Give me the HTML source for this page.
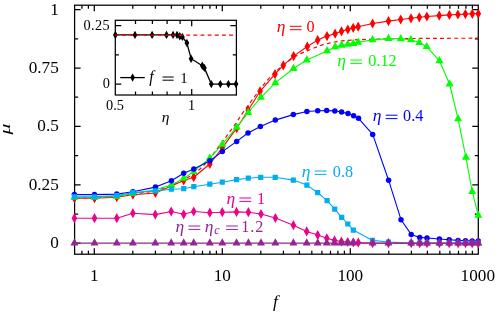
<!DOCTYPE html>
<html><head><meta charset="utf-8"><title>chart</title>
<style>html,body{margin:0;padding:0;background:#fff}body{width:498px;height:315px;overflow:hidden;font-family:"Liberation Serif",serif}</style>
</head><body>
<svg width="498" height="315" viewBox="0 0 498 315" style="display:block;will-change:transform">
<rect width="498" height="315" fill="#fff"/>
<g stroke="#000" stroke-width="1.25" fill="none" stroke-linecap="butt">
<rect x="74.6" y="5.2" width="403.7" height="249.0"/>
<path d="M81.9 254.2v-3.5M81.9 5.2v3.5M88.4 254.2v-3.5M88.4 5.2v3.5M94.3 254.2v-6.0M94.3 5.2v6.0M132.8 254.2v-3.5M132.8 5.2v3.5M155.4 254.2v-3.5M155.4 5.2v3.5M171.4 254.2v-3.5M171.4 5.2v3.5M183.8 254.2v-3.5M183.8 5.2v3.5M193.9 254.2v-3.5M193.9 5.2v3.5M202.5 254.2v-3.5M202.5 5.2v3.5M209.9 254.2v-3.5M209.9 5.2v3.5M216.4 254.2v-3.5M216.4 5.2v3.5M222.3 254.2v-6.0M222.3 5.2v6.0M260.8 254.2v-3.5M260.8 5.2v3.5M283.4 254.2v-3.5M283.4 5.2v3.5M299.4 254.2v-3.5M299.4 5.2v3.5M311.8 254.2v-3.5M311.8 5.2v3.5M321.9 254.2v-3.5M321.9 5.2v3.5M330.5 254.2v-3.5M330.5 5.2v3.5M337.9 254.2v-3.5M337.9 5.2v3.5M344.4 254.2v-3.5M344.4 5.2v3.5M350.3 254.2v-6.0M350.3 5.2v6.0M388.8 254.2v-3.5M388.8 5.2v3.5M411.4 254.2v-3.5M411.4 5.2v3.5M427.4 254.2v-3.5M427.4 5.2v3.5M439.8 254.2v-3.5M439.8 5.2v3.5M449.9 254.2v-3.5M449.9 5.2v3.5M458.5 254.2v-3.5M458.5 5.2v3.5M465.9 254.2v-3.5M465.9 5.2v3.5M472.4 254.2v-3.5M472.4 5.2v3.5M74.6 243.2h6.0M478.3 243.2h-6.0M74.6 214.0h3.5M478.3 214.0h-3.5M74.6 184.8h6.0M478.3 184.8h-6.0M74.6 155.6h3.5M478.3 155.6h-3.5M74.6 126.4h6.0M478.3 126.4h-6.0M74.6 97.2h3.5M478.3 97.2h-3.5M74.6 68.0h6.0M478.3 68.0h-6.0M74.6 38.8h3.5M478.3 38.8h-3.5M74.6 9.6h6.0M478.3 9.6h-6.0"/>
</g>
<polyline points="74.4,197.6 94.5,197.5 116.8,196.5 132.9,194.0 155.4,191.0 171.4,185.2 183.7,179.5 193.7,174.5 200.0,169.0 205.0,164.0 209.8,158.6 216.0,150.3 222.3,142.0 226.1,136.8 230.2,131.2 233.9,126.2 238.6,119.1 242.6,113.1 250.6,102.0 254.6,96.6 263.6,84.6 268.6,78.8 275.0,72.3 283.3,65.0 293.6,57.3 301.6,53.1 314.4,47.8 323.0,44.6 334.3,42.0 343.9,40.7 358.0,39.7 372.6,39.2 400.0,38.6 440.0,38.3 478.3,38.2" fill="none" stroke="#f00" stroke-width="1.2" stroke-dasharray="3.9 3.2" stroke-dashoffset="5.5"/>
<g fill="#ff0000" stroke="none">
<polyline points="74.4,198.2 94.5,198.2 116.8,197.2 132.9,194.7 155.4,193.0 171.4,186.1 183.7,180.5 193.7,177.2 209.8,164.0 222.3,147.8 236.7,128.2 248.2,110.2 260.1,91.3 275.0,74.1 283.3,65.3 293.6,56.1 307.3,46.5 317.7,40.1 327.0,36.1 335.1,33.7 341.5,31.3 347.8,29.5 353.2,27.8 358.2,26.7 372.6,23.5 388.5,21.1 400.7,19.5 411.0,18.3 419.3,17.3 426.9,16.5 439.2,15.6 449.4,14.9 457.9,14.5 465.4,14.1 472.3,13.8 478.3,13.7" fill="none" stroke="#ff0000" stroke-width="1.1" stroke-linejoin="round"/>
<path d="M74.4 193.1L77.2 198.2L74.4 203.3L71.6 198.2ZM94.5 193.1L97.3 198.2L94.5 203.3L91.7 198.2ZM116.8 192.1L119.6 197.2L116.8 202.3L114.0 197.2ZM132.9 189.6L135.7 194.7L132.9 199.8L130.1 194.7ZM155.4 187.9L158.2 193.0L155.4 198.1L152.6 193.0ZM171.4 181.0L174.2 186.1L171.4 191.2L168.6 186.1ZM183.7 175.4L186.5 180.5L183.7 185.6L180.9 180.5ZM193.7 172.1L196.5 177.2L193.7 182.3L190.9 177.2ZM209.8 158.9L212.6 164.0L209.8 169.1L207.0 164.0ZM222.3 142.7L225.1 147.8L222.3 152.9L219.5 147.8ZM236.7 123.1L239.5 128.2L236.7 133.3L233.9 128.2ZM248.2 105.1L251.0 110.2L248.2 115.3L245.4 110.2ZM260.1 86.2L262.9 91.3L260.1 96.4L257.3 91.3ZM275.0 69.0L277.8 74.1L275.0 79.2L272.2 74.1ZM283.3 60.2L286.1 65.3L283.3 70.4L280.5 65.3ZM293.6 51.0L296.4 56.1L293.6 61.2L290.8 56.1ZM307.3 41.4L310.1 46.5L307.3 51.6L304.5 46.5ZM317.7 35.0L320.5 40.1L317.7 45.2L314.9 40.1ZM327.0 31.0L329.8 36.1L327.0 41.2L324.2 36.1ZM335.1 28.6L337.9 33.7L335.1 38.8L332.3 33.7ZM341.5 26.2L344.3 31.3L341.5 36.4L338.7 31.3ZM347.8 24.4L350.6 29.5L347.8 34.6L345.0 29.5ZM353.2 22.7L356.0 27.8L353.2 32.9L350.4 27.8ZM358.2 21.6L361.0 26.7L358.2 31.8L355.4 26.7ZM372.6 18.4L375.4 23.5L372.6 28.6L369.8 23.5ZM388.5 16.0L391.3 21.1L388.5 26.2L385.7 21.1ZM400.7 14.4L403.5 19.5L400.7 24.6L397.9 19.5ZM411.0 13.2L413.8 18.3L411.0 23.4L408.2 18.3ZM419.3 12.2L422.1 17.3L419.3 22.4L416.5 17.3ZM426.9 11.4L429.7 16.5L426.9 21.6L424.1 16.5ZM439.2 10.5L442.0 15.6L439.2 20.7L436.4 15.6ZM449.4 9.8L452.2 14.9L449.4 20.0L446.6 14.9ZM457.9 9.4L460.7 14.5L457.9 19.6L455.1 14.5ZM465.4 9.0L468.2 14.1L465.4 19.2L462.6 14.1ZM472.3 8.7L475.1 13.8L472.3 18.9L469.5 13.8ZM478.3 8.6L481.1 13.7L478.3 18.8L475.5 13.7Z"/>
</g>
<g fill="#00ff00" stroke="none">
<polyline points="74.4,197.3 94.5,197.3 116.8,196.4 132.9,193.5 155.4,189.8 171.4,185.1 183.7,178.4 193.7,171.7 209.8,158.2 222.3,144.4 236.7,127.2 248.2,112.5 260.9,97.3 275.3,82.9 293.5,68.5 306.8,60.0 327.0,50.9 335.1,46.9 341.5,45.4 347.8,44.4 353.2,43.5 358.2,42.3 372.6,39.9 388.5,38.6 400.8,38.8 410.9,39.8 419.3,42.5 426.7,46.7 439.4,60.8 449.6,84.0 458.1,118.8 465.9,157.4 472.2,191.5 478.3,215.4" fill="none" stroke="#00ff00" stroke-width="1.1" stroke-linejoin="round"/>
<path d="M74.4 192.5L78.4 199.7L70.4 199.7ZM94.5 192.5L98.5 199.7L90.5 199.7ZM116.8 191.6L120.8 198.8L112.8 198.8ZM132.9 188.7L136.9 195.9L128.9 195.9ZM155.4 185.0L159.4 192.2L151.4 192.2ZM171.4 180.3L175.4 187.5L167.4 187.5ZM183.7 173.6L187.7 180.8L179.7 180.8ZM193.7 166.9L197.7 174.1L189.7 174.1ZM209.8 153.4L213.8 160.6L205.8 160.6ZM222.3 139.6L226.3 146.8L218.3 146.8ZM236.7 122.4L240.7 129.6L232.7 129.6ZM248.2 107.7L252.2 114.9L244.2 114.9ZM260.9 92.5L264.9 99.7L256.9 99.7ZM275.3 78.1L279.3 85.3L271.3 85.3ZM293.5 63.7L297.5 70.9L289.5 70.9ZM306.8 55.2L310.8 62.4L302.8 62.4ZM327.0 46.1L331.0 53.3L323.0 53.3ZM335.1 42.1L339.1 49.3L331.1 49.3ZM341.5 40.6L345.5 47.8L337.5 47.8ZM347.8 39.6L351.8 46.8L343.8 46.8ZM353.2 38.7L357.2 45.9L349.2 45.9ZM358.2 37.5L362.2 44.7L354.2 44.7ZM372.6 35.1L376.6 42.3L368.6 42.3ZM388.5 33.8L392.5 41.0L384.5 41.0ZM400.8 34.0L404.8 41.2L396.8 41.2ZM410.9 35.0L414.9 42.2L406.9 42.2ZM419.3 37.7L423.3 44.9L415.3 44.9ZM426.7 41.9L430.7 49.1L422.7 49.1ZM439.4 56.0L443.4 63.2L435.4 63.2ZM449.6 79.2L453.6 86.4L445.6 86.4ZM458.1 114.0L462.1 121.2L454.1 121.2ZM465.9 152.6L469.9 159.8L461.9 159.8ZM472.2 186.7L476.2 193.9L468.2 193.9ZM478.3 210.6L482.3 217.8L474.3 217.8Z"/>
</g>
<g fill="#0000ff" stroke="none">
<polyline points="74.4,194.6 94.5,194.6 116.8,194.1 132.9,191.7 155.5,187.1 171.4,180.7 183.7,173.3 193.8,169.0 209.9,160.7 222.3,151.6 236.7,141.4 248.0,133.0 260.4,126.4 275.3,120.1 293.3,114.6 306.9,111.5 317.7,110.7 326.7,110.6 334.8,110.9 341.6,112.0 348.0,113.6 353.6,115.7 358.5,118.3 372.7,134.4 388.6,180.2 401.0,219.7 411.2,234.4 419.7,237.4 427.0,238.0 439.4,239.0 449.2,239.8 458.1,240.4 465.5,240.7 472.2,240.9 478.3,240.9" fill="none" stroke="#0000ff" stroke-width="1.1" stroke-linejoin="round"/>
<circle cx="74.4" cy="194.6" r="2.75"/><circle cx="94.5" cy="194.6" r="2.75"/><circle cx="116.8" cy="194.1" r="2.75"/><circle cx="132.9" cy="191.7" r="2.75"/><circle cx="155.5" cy="187.1" r="2.75"/><circle cx="171.4" cy="180.7" r="2.75"/><circle cx="183.7" cy="173.3" r="2.75"/><circle cx="193.8" cy="169.0" r="2.75"/><circle cx="209.9" cy="160.7" r="2.75"/><circle cx="222.3" cy="151.6" r="2.75"/><circle cx="236.7" cy="141.4" r="2.75"/><circle cx="248.0" cy="133.0" r="2.75"/><circle cx="260.4" cy="126.4" r="2.75"/><circle cx="275.3" cy="120.1" r="2.75"/><circle cx="293.3" cy="114.6" r="2.75"/><circle cx="306.9" cy="111.5" r="2.75"/><circle cx="317.7" cy="110.7" r="2.75"/><circle cx="326.7" cy="110.6" r="2.75"/><circle cx="334.8" cy="110.9" r="2.75"/><circle cx="341.6" cy="112.0" r="2.75"/><circle cx="348.0" cy="113.6" r="2.75"/><circle cx="353.6" cy="115.7" r="2.75"/><circle cx="358.5" cy="118.3" r="2.75"/><circle cx="372.7" cy="134.4" r="2.75"/><circle cx="388.6" cy="180.2" r="2.75"/><circle cx="401.0" cy="219.7" r="2.75"/><circle cx="411.2" cy="234.4" r="2.75"/><circle cx="419.7" cy="237.4" r="2.75"/><circle cx="427.0" cy="238.0" r="2.75"/><circle cx="439.4" cy="239.0" r="2.75"/><circle cx="449.2" cy="239.8" r="2.75"/><circle cx="458.1" cy="240.4" r="2.75"/><circle cx="465.5" cy="240.7" r="2.75"/><circle cx="472.2" cy="240.9" r="2.75"/><circle cx="478.3" cy="240.9" r="2.75"/>
</g>
<g fill="#00aeef" stroke="none">
<polyline points="74.4,196.9 94.5,196.9 116.8,195.5 132.9,192.6 155.5,190.9 171.4,189.2 183.7,188.7 193.8,186.7 209.8,184.2 222.3,182.2 236.6,179.6 248.3,178.2 260.7,177.3 275.2,177.3 293.3,180.1 306.9,185.1 317.7,192.7 327.1,200.7 334.7,209.1 341.7,217.3 347.8,224.0 353.3,230.1 372.5,240.4 388.4,242.0 411.2,243.0 419.7,243.2 427.0,243.2 439.4,243.2 449.2,243.2 458.1,243.2 465.5,243.2 472.2,243.2 478.3,243.2" fill="none" stroke="#00aeef" stroke-width="1.1" stroke-linejoin="round"/>
<path d="M71.8 194.3h5.2v5.2h-5.2ZM91.9 194.3h5.2v5.2h-5.2ZM114.2 192.9h5.2v5.2h-5.2ZM130.3 190.0h5.2v5.2h-5.2ZM152.9 188.3h5.2v5.2h-5.2ZM168.8 186.6h5.2v5.2h-5.2ZM181.1 186.1h5.2v5.2h-5.2ZM191.2 184.1h5.2v5.2h-5.2ZM207.2 181.6h5.2v5.2h-5.2ZM219.7 179.6h5.2v5.2h-5.2ZM234.0 177.0h5.2v5.2h-5.2ZM245.7 175.6h5.2v5.2h-5.2ZM258.1 174.7h5.2v5.2h-5.2ZM272.6 174.7h5.2v5.2h-5.2ZM290.7 177.5h5.2v5.2h-5.2ZM304.3 182.5h5.2v5.2h-5.2ZM315.1 190.1h5.2v5.2h-5.2ZM324.5 198.1h5.2v5.2h-5.2ZM332.1 206.5h5.2v5.2h-5.2ZM339.1 214.7h5.2v5.2h-5.2ZM345.2 221.4h5.2v5.2h-5.2ZM350.7 227.5h5.2v5.2h-5.2ZM369.9 237.8h5.2v5.2h-5.2ZM385.8 239.4h5.2v5.2h-5.2ZM408.6 240.4h5.2v5.2h-5.2ZM417.1 240.6h5.2v5.2h-5.2ZM424.4 240.6h5.2v5.2h-5.2ZM436.8 240.6h5.2v5.2h-5.2ZM446.6 240.6h5.2v5.2h-5.2ZM455.5 240.6h5.2v5.2h-5.2ZM462.9 240.6h5.2v5.2h-5.2ZM469.6 240.6h5.2v5.2h-5.2ZM475.7 240.6h5.2v5.2h-5.2Z"/>
</g>
<g fill="#ec008c" stroke="none">
<polyline points="74.4,218.2 94.5,218.2 116.8,218.2 132.9,213.2 155.3,214.6 171.2,211.5 183.7,214.3 193.7,211.5 209.8,212.7 222.3,212.2 236.5,211.9 248.4,212.2 261.0,214.0 275.4,218.0 293.4,225.2 306.7,231.4 317.7,235.1 326.8,238.3 334.5,240.4 341.4,241.5 347.7,242.0 353.3,242.3 358.3,242.6 372.6,243.1 388.4,243.2 411.2,243.2 419.7,243.2 427.0,243.2 439.4,243.2 449.2,243.2 458.1,243.2 465.5,243.2 472.2,243.2 478.3,243.2" fill="none" stroke="#ec008c" stroke-width="1.1" stroke-linejoin="round"/>
<path d="M74.4 213.1L77.2 218.2L74.4 223.3L71.6 218.2ZM94.5 213.1L97.3 218.2L94.5 223.3L91.7 218.2ZM116.8 213.1L119.6 218.2L116.8 223.3L114.0 218.2ZM132.9 208.1L135.7 213.2L132.9 218.3L130.1 213.2ZM155.3 209.5L158.1 214.6L155.3 219.7L152.5 214.6ZM171.2 206.4L174.0 211.5L171.2 216.6L168.4 211.5ZM183.7 209.2L186.5 214.3L183.7 219.4L180.9 214.3ZM193.7 206.4L196.5 211.5L193.7 216.6L190.9 211.5ZM209.8 207.6L212.6 212.7L209.8 217.8L207.0 212.7ZM222.3 207.1L225.1 212.2L222.3 217.3L219.5 212.2ZM236.5 206.8L239.3 211.9L236.5 217.0L233.7 211.9ZM248.4 207.1L251.2 212.2L248.4 217.3L245.6 212.2ZM261.0 208.9L263.8 214.0L261.0 219.1L258.2 214.0ZM275.4 212.9L278.2 218.0L275.4 223.1L272.6 218.0ZM293.4 220.1L296.2 225.2L293.4 230.3L290.6 225.2ZM306.7 226.3L309.5 231.4L306.7 236.5L303.9 231.4ZM317.7 230.0L320.5 235.1L317.7 240.2L314.9 235.1ZM326.8 233.2L329.6 238.3L326.8 243.4L324.0 238.3ZM334.5 235.3L337.3 240.4L334.5 245.5L331.7 240.4ZM341.4 236.4L344.2 241.5L341.4 246.6L338.6 241.5ZM347.7 236.9L350.5 242.0L347.7 247.1L344.9 242.0ZM353.3 237.2L356.1 242.3L353.3 247.4L350.5 242.3ZM358.3 237.5L361.1 242.6L358.3 247.7L355.5 242.6ZM372.6 238.0L375.4 243.1L372.6 248.2L369.8 243.1ZM388.4 238.1L391.2 243.2L388.4 248.3L385.6 243.2ZM411.2 238.1L414.0 243.2L411.2 248.3L408.4 243.2ZM419.7 238.1L422.5 243.2L419.7 248.3L416.9 243.2ZM427.0 238.1L429.8 243.2L427.0 248.3L424.2 243.2ZM439.4 238.1L442.2 243.2L439.4 248.3L436.6 243.2ZM449.2 238.1L452.0 243.2L449.2 248.3L446.4 243.2ZM458.1 238.1L460.9 243.2L458.1 248.3L455.3 243.2ZM465.5 238.1L468.3 243.2L465.5 248.3L462.7 243.2ZM472.2 238.1L475.0 243.2L472.2 248.3L469.4 243.2ZM478.3 238.1L481.1 243.2L478.3 248.3L475.5 243.2Z"/>
</g>
<g fill="#92278f" stroke="none">
<polyline points="74.4,243.1 94.5,243.1 116.8,243.1 132.9,243.1 155.3,243.1 171.2,243.1 183.7,243.1 193.7,243.1 209.8,243.1 222.3,243.1 236.5,243.1 248.4,243.1 261.0,243.1 275.4,243.1 293.4,243.1 306.7,243.1 317.7,243.1 326.8,243.1 334.5,243.1 341.4,243.1 347.7,243.1 353.3,243.1 372.6,243.1 388.4,243.1 411.2,243.1 419.7,243.1 427.0,243.1 439.4,243.1 449.2,243.1 458.1,243.1 465.5,243.1 472.2,243.1 478.3,243.1" fill="none" stroke="#92278f" stroke-width="1.1" stroke-linejoin="round"/>
<path d="M74.4 238.3L78.4 245.5L70.4 245.5ZM94.5 238.3L98.5 245.5L90.5 245.5ZM116.8 238.3L120.8 245.5L112.8 245.5ZM132.9 238.3L136.9 245.5L128.9 245.5ZM155.3 238.3L159.3 245.5L151.3 245.5ZM171.2 238.3L175.2 245.5L167.2 245.5ZM183.7 238.3L187.7 245.5L179.7 245.5ZM193.7 238.3L197.7 245.5L189.7 245.5ZM209.8 238.3L213.8 245.5L205.8 245.5ZM222.3 238.3L226.3 245.5L218.3 245.5ZM236.5 238.3L240.5 245.5L232.5 245.5ZM248.4 238.3L252.4 245.5L244.4 245.5ZM261.0 238.3L265.0 245.5L257.0 245.5ZM275.4 238.3L279.4 245.5L271.4 245.5ZM293.4 238.3L297.4 245.5L289.4 245.5ZM306.7 238.3L310.7 245.5L302.7 245.5ZM317.7 238.3L321.7 245.5L313.7 245.5ZM326.8 238.3L330.8 245.5L322.8 245.5ZM334.5 238.3L338.5 245.5L330.5 245.5ZM341.4 238.3L345.4 245.5L337.4 245.5ZM347.7 238.3L351.7 245.5L343.7 245.5ZM353.3 238.3L357.3 245.5L349.3 245.5ZM372.6 238.3L376.6 245.5L368.6 245.5ZM388.4 238.3L392.4 245.5L384.4 245.5ZM411.2 238.3L415.2 245.5L407.2 245.5ZM419.7 238.3L423.7 245.5L415.7 245.5ZM427.0 238.3L431.0 245.5L423.0 245.5ZM439.4 238.3L443.4 245.5L435.4 245.5ZM449.2 238.3L453.2 245.5L445.2 245.5ZM458.1 238.3L462.1 245.5L454.1 245.5ZM465.5 238.3L469.5 245.5L461.5 245.5ZM472.2 238.3L476.2 245.5L468.2 245.5ZM478.3 238.3L482.3 245.5L474.3 245.5Z"/>
</g>
<rect x="115.3" y="20.3" width="121.1" height="74.7" fill="#fff" stroke="none"/>
<g stroke="#000" stroke-width="1.25" fill="none">
<rect x="115.3" y="20.3" width="121.1" height="74.7"/>
<path d="M135.5 95.0v-3.6M135.5 20.3v3.6M152.4 95.0v-3.6M152.4 20.3v3.6M167.1 95.0v-3.6M167.1 20.3v3.6M180.1 95.0v-3.6M180.1 20.3v3.6M191.7 95.0v-6.0M191.7 20.3v6.0M115.3 84.0h6.0M236.4 84.0h-6.0M115.3 54.8h3.6M236.4 54.8h-3.6M115.3 25.6h6.0M236.4 25.6h-6.0"/>
</g>
<polyline points="115.4,34.9 135.0,34.9 152.1,34.9 166.5,34.9 173.1,34.9 177.0,34.9 179.8,36.2 182.4,36.9 186.9,43.0 191.1,58.7 202.3,65.8 204.4,67.9 211.3,84.1 220.3,84.1 228.4,84.1 236.0,84.1" fill="none" stroke="#000" stroke-width="1.3"/>
<path d="M115.4 30.7L117.8 34.9L115.4 39.1L113.0 34.9ZM135.0 30.7L137.4 34.9L135.0 39.1L132.6 34.9ZM152.1 30.7L154.5 34.9L152.1 39.1L149.7 34.9ZM166.5 30.7L168.9 34.9L166.5 39.1L164.1 34.9ZM173.1 30.7L175.5 34.9L173.1 39.1L170.7 34.9ZM177.0 30.7L179.4 34.9L177.0 39.1L174.6 34.9ZM179.8 32.0L182.2 36.2L179.8 40.4L177.4 36.2ZM182.4 32.7L184.8 36.9L182.4 41.1L180.0 36.9ZM186.9 38.8L189.3 43.0L186.9 47.2L184.5 43.0ZM191.1 54.5L193.5 58.7L191.1 62.9L188.7 58.7ZM202.3 61.6L204.7 65.8L202.3 70.0L199.9 65.8ZM204.4 63.7L206.8 67.9L204.4 72.1L202.0 67.9ZM211.3 79.9L213.7 84.1L211.3 88.3L208.9 84.1ZM220.3 79.9L222.7 84.1L220.3 88.3L217.9 84.1ZM228.4 79.9L230.8 84.1L228.4 88.3L226.0 84.1ZM236.0 79.9L238.4 84.1L236.0 88.3L233.6 84.1Z" fill="#000"/>
<path d="M115.3 35.1H236.4" stroke="#f00" stroke-width="1.2" stroke-dasharray="3.9 3.23" stroke-dashoffset="0.3" fill="none"/>
<path d="M120.2 77.6H144.8" stroke="#000" stroke-width="1.3"/><path d="M132.6 73.4L135.0 77.6L132.6 81.8L130.2 77.6Z" fill="#000"/>
<g font-family="'Liberation Serif', serif" fill="#000">
<text x="58.8" y="248.1" font-size="17.2" text-anchor="end">0</text>
<text x="58.8" y="189.7" font-size="17.2" text-anchor="end">0.25</text>
<text x="58.8" y="131.3" font-size="17.2" text-anchor="end">0.5</text>
<text x="58.8" y="72.9" font-size="17.2" text-anchor="end">0.75</text>
<text x="58.8" y="14.5" font-size="17.2" text-anchor="end">1</text>
<text x="94.3" y="281.2" font-size="17.2" text-anchor="middle">1</text>
<text x="222.3" y="281.2" font-size="17.2" text-anchor="middle">10</text>
<text x="350.3" y="281.2" font-size="17.2" text-anchor="middle">100</text>
<text x="477.8" y="281.2" font-size="17.2" text-anchor="middle">1000</text>
<text x="275.4" y="307.4" font-size="17.5" text-anchor="middle"><tspan font-style="italic">f</tspan></text>
<text transform="translate(10.0,129.0) rotate(-90) scale(1.25,0.8)" font-size="17.5" text-anchor="middle" font-style="italic">μ</text>
<text x="109.9" y="29.5" font-size="14.3" text-anchor="end" letter-spacing="0.35">0.25</text>
<text x="109.9" y="88.1" font-size="14.3" text-anchor="end">0</text>
<text x="115.0" y="109.8" font-size="14.3" text-anchor="middle">0.5</text>
<text x="191.6" y="109.8" font-size="14.3" text-anchor="middle">1</text>
<text x="165.6" y="121.6" font-size="15.5" text-anchor="middle"><tspan font-style="italic">η</tspan></text>
<text x="149.3" y="82.0" font-size="15.8" text-anchor="start"><tspan font-style="italic">f</tspan></text>
<path d="M162.5 77.0h11.2M162.5 80.2h11.2" stroke="#000" stroke-width="1.0" fill="none"/>
<text x="187.6" y="82.5" font-size="14.8" text-anchor="end">1</text>
<text x="276.8" y="32" font-size="17.5" font-style="italic" fill="#ff0000">η</text>
<path d="M289.8 26.3h11.8M289.8 29.7h11.8" stroke="#ff0000" stroke-width="1.0" fill="none"/>
<text x="314.6" y="32" font-size="16.2" text-anchor="end" fill="#ff0000">0</text>
<text x="337.3" y="65.7" font-size="17.5" font-style="italic" fill="#00ff00">η</text>
<path d="M350.3 60.0h11.8M350.3 63.4h11.8" stroke="#00ff00" stroke-width="1.0" fill="none"/>
<text x="396.7" y="65.7" font-size="16.2" text-anchor="end" fill="#00ff00">0.12</text>
<text x="372.7" y="120.9" font-size="17.5" font-style="italic" fill="#0000ff">η</text>
<path d="M385.7 115.2h11.8M385.7 118.6h11.8" stroke="#0000ff" stroke-width="1.0" fill="none"/>
<text x="423.3" y="120.9" font-size="16.2" text-anchor="end" fill="#0000ff">0.4</text>
<text x="301.7" y="176.7" font-size="17.5" font-style="italic" fill="#00aeef">η</text>
<path d="M314.7 171.0h11.8M314.7 174.4h11.8" stroke="#00aeef" stroke-width="1.0" fill="none"/>
<text x="353.1" y="176.7" font-size="16.2" text-anchor="end" fill="#00aeef">0.8</text>
<text x="226.4" y="203.7" font-size="17.5" font-style="italic" fill="#ec008c">η</text>
<path d="M239.4 198.0h11.8M239.4 201.4h11.8" stroke="#ec008c" stroke-width="1.0" fill="none"/>
<text x="265.0" y="203.7" font-size="16.2" text-anchor="end" fill="#ec008c">1</text>
<text x="175.5" y="231.7" font-size="17.5" font-style="italic" fill="#92278f">η</text>
<path d="M188.5 226.0h11.8M188.5 229.4h11.8" stroke="#92278f" stroke-width="1.0" fill="none"/>
<text x="204.8" y="231.7" font-size="17.5" font-style="italic" fill="#92278f">η</text>
<text x="214.2" y="234.2" font-size="12" font-style="italic" fill="#92278f">c</text>
<path d="M226.1 226.0h11.8M226.1 229.4h11.8" stroke="#92278f" stroke-width="1.0" fill="none"/>
<text x="264.2" y="231.7" font-size="16.2" text-anchor="end" fill="#92278f" letter-spacing="0.9">1.2</text>
</g>
</svg>
</body></html>
